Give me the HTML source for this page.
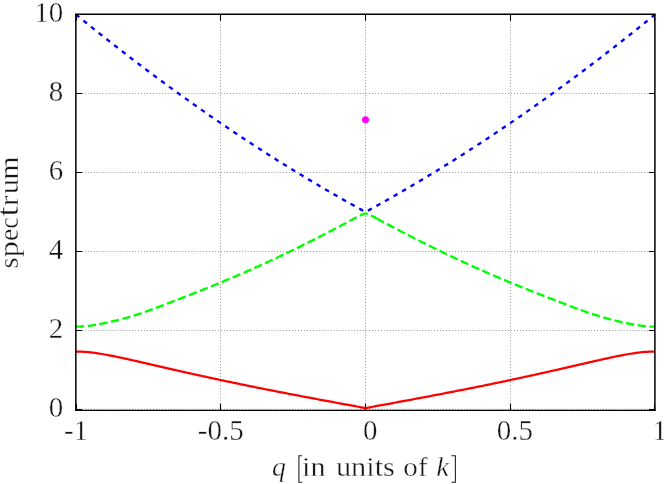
<!DOCTYPE html>
<html><head><meta charset="utf-8"><style>
html,body{margin:0;padding:0;background:#fff}
svg{display:block}
text{font-family:"Liberation Serif",serif;font-size:28px;fill:#141414;stroke:#fff;stroke-width:0.36px}
</style></head><body>
<svg width="664" height="484" viewBox="0 0 664 484">
<rect width="664" height="484" fill="#fff"/>
<g stroke="#000" stroke-opacity="0.42" stroke-width="1" stroke-dasharray="1 1.96" fill="none">
<path d="M76,409.2 H655"/>
<path d="M76,330.5 H655"/>
<path d="M76,251.5 H655"/>
<path d="M76,172.5 H655"/>
<path d="M76,93.5 H655"/>
<path d="M220.50,409.5 V14.5"/>
<path d="M365.50,409.5 V14.5"/>
<path d="M510.50,409.5 V14.5"/>
</g>
<g stroke="#000" stroke-width="1.1" fill="none">
<path d="M76,409.5 h6 M655,409.5 h-6"/>
<path d="M76,330.5 h6 M655,330.5 h-6"/>
<path d="M76,251.5 h6 M655,251.5 h-6"/>
<path d="M76,172.5 h6 M655,172.5 h-6"/>
<path d="M76,93.5 h6 M655,93.5 h-6"/>
<path d="M76,14.5 h6 M655,14.5 h-6"/>
<path d="M76.50,410 V403.8 M76.50,14.5 V20.7"/>
<path d="M220.50,410 V403.8 M220.50,14.5 V20.7"/>
<path d="M365.50,410 V403.8 M365.50,14.5 V20.7"/>
<path d="M510.50,410 V403.8 M510.50,14.5 V20.7"/>
<path d="M654.50,410 V403.8 M654.50,14.5 V20.7"/>
</g>
<path d="M76.00,351.59 L77.45,351.59 L78.89,351.61 L80.34,351.64 L81.79,351.70 L83.24,351.77 L84.69,351.85 L86.13,351.96 L87.58,352.08 L89.03,352.21 L90.48,352.36 L91.92,352.53 L93.37,352.70 L94.82,352.89 L96.27,353.09 L97.71,353.30 L99.16,353.53 L100.61,353.76 L102.05,354.00 L103.50,354.24 L104.95,354.50 L106.40,354.76 L107.84,355.03 L109.29,355.31 L110.74,355.59 L112.19,355.88 L113.63,356.17 L115.08,356.46 L116.53,356.76 L117.98,357.06 L119.43,357.37 L120.87,357.68 L122.32,357.99 L123.77,358.31 L125.22,358.62 L126.66,358.94 L128.11,359.26 L129.56,359.59 L131.00,359.91 L132.45,360.24 L133.90,360.56 L135.35,360.89 L136.79,361.22 L138.24,361.55 L139.69,361.88 L141.14,362.22 L142.58,362.55 L144.03,362.88 L145.48,363.21 L146.93,363.55 L148.38,363.88 L149.82,364.21 L151.27,364.55 L152.72,364.88 L154.17,365.22 L155.61,365.55 L157.06,365.88 L158.51,366.22 L159.96,366.55 L161.40,366.88 L162.85,367.22 L164.30,367.55 L165.75,367.88 L167.19,368.21 L168.64,368.54 L170.09,368.87 L171.54,369.20 L172.98,369.53 L174.43,369.86 L175.88,370.19 L177.33,370.52 L178.77,370.85 L180.22,371.18 L181.67,371.50 L183.12,371.83 L184.56,372.15 L186.01,372.48 L187.46,372.80 L188.91,373.13 L190.35,373.45 L191.80,373.77 L193.25,374.09 L194.69,374.41 L196.14,374.73 L197.59,375.05 L199.04,375.37 L200.48,375.69 L201.93,376.01 L203.38,376.32 L204.83,376.64 L206.27,376.95 L207.72,377.27 L209.17,377.58 L210.62,377.90 L212.06,378.21 L213.51,378.52 L214.96,378.83 L216.41,379.14 L217.85,379.45 L219.30,379.76 L220.75,380.07 L222.20,380.37 L223.65,380.68 L225.09,380.98 L226.54,381.29 L227.99,381.59 L229.44,381.90 L230.88,382.20 L232.33,382.50 L233.78,382.80 L235.23,383.10 L236.67,383.40 L238.12,383.70 L239.57,384.00 L241.02,384.30 L242.46,384.60 L243.91,384.89 L245.36,385.19 L246.80,385.48 L248.25,385.78 L249.70,386.07 L251.15,386.37 L252.59,386.66 L254.04,386.95 L255.49,387.24 L256.94,387.53 L258.38,387.82 L259.83,388.11 L261.28,388.40 L262.73,388.69 L264.18,388.98 L265.62,389.26 L267.07,389.55 L268.52,389.84 L269.97,390.12 L271.41,390.41 L272.86,390.69 L274.31,390.97 L275.75,391.26 L277.20,391.54 L278.65,391.82 L280.10,392.10 L281.54,392.38 L282.99,392.66 L284.44,392.94 L285.89,393.22 L287.34,393.50 L288.78,393.78 L290.23,394.06 L291.68,394.34 L293.12,394.61 L294.57,394.89 L296.02,395.17 L297.47,395.44 L298.91,395.72 L300.36,395.99 L301.81,396.27 L303.26,396.54 L304.71,396.82 L306.15,397.09 L307.60,397.36 L309.05,397.63 L310.50,397.91 L311.94,398.18 L313.39,398.45 L314.84,398.72 L316.29,398.99 L317.73,399.26 L319.18,399.53 L320.63,399.80 L322.07,400.07 L323.52,400.34 L324.97,400.61 L326.42,400.88 L327.87,401.15 L329.31,401.42 L330.76,401.69 L332.21,401.96 L333.66,402.23 L335.10,402.49 L336.55,402.76 L338.00,403.03 L339.44,403.30 L340.89,403.56 L342.34,403.83 L343.79,404.10 L345.24,404.36 L346.68,404.63 L348.13,404.90 L349.58,405.16 L351.03,405.43 L352.47,405.70 L353.92,405.96 L355.37,406.23 L356.81,406.50 L358.26,406.76 L359.71,407.03 L361.16,407.30 L362.61,407.56 L364.05,407.83 L365.50,408.09 L366.95,407.83 L368.39,407.56 L369.84,407.30 L371.29,407.03 L372.74,406.76 L374.19,406.50 L375.63,406.23 L377.08,405.96 L378.53,405.70 L379.98,405.43 L381.42,405.16 L382.87,404.90 L384.32,404.63 L385.77,404.36 L387.21,404.10 L388.66,403.83 L390.11,403.56 L391.56,403.30 L393.00,403.03 L394.45,402.76 L395.90,402.49 L397.35,402.23 L398.79,401.96 L400.24,401.69 L401.69,401.42 L403.14,401.15 L404.58,400.88 L406.03,400.61 L407.48,400.34 L408.93,400.07 L410.37,399.80 L411.82,399.53 L413.27,399.26 L414.71,398.99 L416.16,398.72 L417.61,398.45 L419.06,398.18 L420.50,397.91 L421.95,397.63 L423.40,397.36 L424.85,397.09 L426.30,396.82 L427.74,396.54 L429.19,396.27 L430.64,395.99 L432.08,395.72 L433.53,395.44 L434.98,395.17 L436.43,394.89 L437.88,394.61 L439.32,394.34 L440.77,394.06 L442.22,393.78 L443.67,393.50 L445.11,393.22 L446.56,392.94 L448.01,392.66 L449.45,392.38 L450.90,392.10 L452.35,391.82 L453.80,391.54 L455.25,391.26 L456.69,390.97 L458.14,390.69 L459.59,390.41 L461.04,390.12 L462.48,389.84 L463.93,389.55 L465.38,389.26 L466.83,388.98 L468.27,388.69 L469.72,388.40 L471.17,388.11 L472.62,387.82 L474.06,387.53 L475.51,387.24 L476.96,386.95 L478.41,386.66 L479.85,386.37 L481.30,386.07 L482.75,385.78 L484.19,385.48 L485.64,385.19 L487.09,384.89 L488.54,384.60 L489.98,384.30 L491.43,384.00 L492.88,383.70 L494.33,383.40 L495.77,383.10 L497.22,382.80 L498.67,382.50 L500.12,382.20 L501.56,381.90 L503.01,381.59 L504.46,381.29 L505.91,380.98 L507.36,380.68 L508.80,380.37 L510.25,380.07 L511.70,379.76 L513.14,379.45 L514.59,379.14 L516.04,378.83 L517.49,378.52 L518.93,378.21 L520.38,377.90 L521.83,377.58 L523.28,377.27 L524.73,376.95 L526.17,376.64 L527.62,376.32 L529.07,376.01 L530.52,375.69 L531.96,375.37 L533.41,375.05 L534.86,374.73 L536.31,374.41 L537.75,374.09 L539.20,373.77 L540.65,373.45 L542.10,373.13 L543.54,372.80 L544.99,372.48 L546.44,372.15 L547.88,371.83 L549.33,371.50 L550.78,371.18 L552.23,370.85 L553.67,370.52 L555.12,370.19 L556.57,369.86 L558.02,369.53 L559.46,369.20 L560.91,368.87 L562.36,368.54 L563.81,368.21 L565.25,367.88 L566.70,367.55 L568.15,367.22 L569.60,366.88 L571.05,366.55 L572.49,366.22 L573.94,365.88 L575.39,365.55 L576.84,365.22 L578.28,364.88 L579.73,364.55 L581.18,364.21 L582.62,363.88 L584.07,363.55 L585.52,363.21 L586.97,362.88 L588.41,362.55 L589.86,362.22 L591.31,361.88 L592.76,361.55 L594.21,361.22 L595.65,360.89 L597.10,360.56 L598.55,360.24 L600.00,359.91 L601.44,359.59 L602.89,359.26 L604.34,358.94 L605.78,358.62 L607.23,358.31 L608.68,357.99 L610.13,357.68 L611.58,357.37 L613.02,357.06 L614.47,356.76 L615.92,356.46 L617.37,356.17 L618.81,355.88 L620.26,355.59 L621.71,355.31 L623.16,355.03 L624.60,354.76 L626.05,354.50 L627.50,354.24 L628.95,354.00 L630.39,353.76 L631.84,353.53 L633.29,353.30 L634.74,353.09 L636.18,352.89 L637.63,352.70 L639.08,352.53 L640.52,352.36 L641.97,352.21 L643.42,352.08 L644.87,351.96 L646.31,351.85 L647.76,351.77 L649.21,351.70 L650.66,351.64 L652.11,351.61 L653.55,351.59 L655.00,351.59" stroke="#ff0000" stroke-width="2.25" fill="none" stroke-linejoin="round"/>
<path d="M76.00,326.65 L77.00,326.65 L78.00,326.64 L79.01,326.62 L80.01,326.58 L81.01,326.54 L82.01,326.48 L83.01,326.42 L84.02,326.34 L85.02,326.25 L86.02,326.15 L87.02,326.05 L88.02,325.93 L89.03,325.81 L90.03,325.68 L91.03,325.54 L92.03,325.39 L93.03,325.24 L94.04,325.08 L95.04,324.92 L96.04,324.75 L97.04,324.57 L98.04,324.39 L99.05,324.21 L100.05,324.02 L101.05,323.83 L102.05,323.63 L103.05,323.43 L104.06,323.22 L105.06,323.02 L106.06,322.81 L107.06,322.59 L108.06,322.37 L109.07,322.15 L110.07,321.93 L111.07,321.70 L112.07,321.47 L113.07,321.24 L114.08,321.00 L115.08,320.76 L116.08,320.52 L117.08,320.27 L118.08,320.02 L119.09,319.76 L120.09,319.51 L121.09,319.25 L122.09,318.98 L123.09,318.72 L124.10,318.44 L125.10,318.17 L126.10,317.89 L127.10,317.61 L128.10,317.32 L129.11,317.03 L130.11,316.74 L131.11,316.44 L132.11,316.13 L133.11,315.83 L134.12,315.52 L135.12,315.20 L136.12,314.89 L137.12,314.56 L138.12,314.24 L139.13,313.91 L140.13,313.58 L141.13,313.24 L142.13,312.90 L143.13,312.56 L144.14,312.21 L145.14,311.86 L146.14,311.51 L147.14,311.15 L148.14,310.80 L149.15,310.43 L150.15,310.07 L151.15,309.71 L152.15,309.34 L153.15,308.97 L154.16,308.60 L155.16,308.22 L156.16,307.85 L157.16,307.47 L158.16,307.09 L159.17,306.71 L160.17,306.33 L161.17,305.95 L162.17,305.57 L163.17,305.18 L164.18,304.80 L165.18,304.42 L166.18,304.03 L167.18,303.65 L168.18,303.26 L169.19,302.87 L170.19,302.49 L171.19,302.10 L172.19,301.71 L173.19,301.32 L174.20,300.94 L175.20,300.55 L176.20,300.16 L177.20,299.77 L178.20,299.39 L179.21,299.00 L180.21,298.61 L181.21,298.22 L182.21,297.83 L183.21,297.44 L184.22,297.06 L185.22,296.67 L186.22,296.28 L187.22,295.89 L188.22,295.50 L189.23,295.11 L190.23,294.72 L191.23,294.33 L192.23,293.94 L193.23,293.54 L194.24,293.15 L195.24,292.76 L196.24,292.37 L197.24,291.97 L198.24,291.58 L199.25,291.18 L200.25,290.79 L201.25,290.39 L202.25,289.99 L203.25,289.60 L204.26,289.20 L205.26,288.80 L206.26,288.40 L207.26,288.00 L208.26,287.60 L209.27,287.19 L210.27,286.79 L211.27,286.39 L212.27,285.98 L213.27,285.57 L214.28,285.17 L215.28,284.76 L216.28,284.35 L217.28,283.94 L218.28,283.53 L219.29,283.12 L220.29,282.70 L221.29,282.29 L222.29,281.88 L223.29,281.46 L224.30,281.04 L225.30,280.62 L226.30,280.21 L227.30,279.79 L228.30,279.36 L229.31,278.94 L230.31,278.52 L231.31,278.10 L232.31,277.67 L233.31,277.24 L234.32,276.82 L235.32,276.39 L236.32,275.96 L237.32,275.53 L238.32,275.10 L239.33,274.67 L240.33,274.23 L241.33,273.80 L242.33,273.37 L243.33,272.93 L244.34,272.49 L245.34,272.05 L246.34,271.61 L247.34,271.17 L248.34,270.73 L249.35,270.29 L250.35,269.85 L251.35,269.40 L252.35,268.96 L253.35,268.51 L254.36,268.06 L255.36,267.62 L256.36,267.17 L257.36,266.72 L258.36,266.26 L259.37,265.81 L260.37,265.36 L261.37,264.90 L262.37,264.45 L263.37,263.99 L264.38,263.53 L265.38,263.08 L266.38,262.62 L267.38,262.16 L268.38,261.69 L269.39,261.23 L270.39,260.77 L271.39,260.30 L272.39,259.84 L273.39,259.37 L274.40,258.90 L275.40,258.43 L276.40,257.97 L277.40,257.49 L278.40,257.02 L279.41,256.55 L280.41,256.08 L281.41,255.60 L282.41,255.13 L283.41,254.65 L284.42,254.17 L285.42,253.69 L286.42,253.21 L287.42,252.73 L288.42,252.25 L289.43,251.77 L290.43,251.29 L291.43,250.80 L292.43,250.31 L293.43,249.83 L294.44,249.34 L295.44,248.85 L296.44,248.36 L297.44,247.87 L298.44,247.38 L299.45,246.89 L300.45,246.39 L301.45,245.90 L302.45,245.40 L303.45,244.91 L304.46,244.41 L305.46,243.91 L306.46,243.41 L307.46,242.91 L308.46,242.41 L309.47,241.91 L310.47,241.40 L311.47,240.90 L312.47,240.39 L313.47,239.89 L314.48,239.38 L315.48,238.87 L316.48,238.36 L317.48,237.85 L318.48,237.34 L319.49,236.83 L320.49,236.31 L321.49,235.80 L322.49,235.28 L323.49,234.77 L324.50,234.25 L325.50,233.73 L326.50,233.21 L327.50,232.69 L328.50,232.17 L329.51,231.65 L330.51,231.13 L331.51,230.61 L332.51,230.08 L333.51,229.56 L334.52,229.03 L335.52,228.50 L336.52,227.97 L337.52,227.44 L338.52,226.92 L339.53,226.38 L340.53,225.85 L341.53,225.32 L342.53,224.79 L343.53,224.25 L344.54,223.72 L345.54,223.19 L346.54,222.65 L347.54,222.11 L348.54,221.58 L349.55,221.04 L350.55,220.51 L351.55,219.97 L352.55,219.43 L353.55,218.90 L354.56,218.36 L355.56,217.83 L356.56,217.30 L357.56,216.78 L358.56,216.25 L359.57,215.74 L360.57,215.24 L361.57,214.77 L362.57,214.33 L363.57,213.95 L364.58,213.68 L365.58,213.60 L366.58,213.71 L367.58,214.00 L368.58,214.39 L369.59,214.84 L370.59,215.32 L371.59,215.82 L372.59,216.34 L373.59,216.86 L374.60,217.38 L375.60,217.91 L376.60,218.45" stroke="#00ff00" stroke-width="2.35" fill="none" stroke-dasharray="8.25 3.54"/>
<path d="M376.60,218.45 L377.53,218.94 L378.46,219.44 L379.38,219.93 L380.31,220.43 L381.24,220.93 L382.17,221.42 L383.10,221.92 L384.02,222.42 L384.95,222.91 L385.88,223.41 L386.81,223.90 L387.74,224.40 L388.66,224.89 L389.59,225.39 L390.52,225.88 L391.45,226.37 L392.38,226.86 L393.30,227.35 L394.23,227.84 L395.16,228.33 L396.09,228.82 L397.02,229.31 L397.94,229.80 L398.87,230.28 L399.80,230.77 L400.73,231.25 L401.66,231.74 L402.58,232.22 L403.51,232.70 L404.44,233.18 L405.37,233.66 L406.30,234.14 L407.22,234.62 L408.15,235.10 L409.08,235.58 L410.01,236.06 L410.94,236.53 L411.86,237.01 L412.79,237.48 L413.72,237.95 L414.65,238.43 L415.58,238.90 L416.50,239.37 L417.43,239.84 L418.36,240.31 L419.29,240.78 L420.22,241.24 L421.14,241.71 L422.07,242.18 L423.00,242.64 L423.93,243.11 L424.86,243.57 L425.78,244.03 L426.71,244.49 L427.64,244.95 L428.57,245.41 L429.50,245.87 L430.42,246.33 L431.35,246.79 L432.28,247.24 L433.21,247.70 L434.14,248.15 L435.06,248.61 L435.99,249.06 L436.92,249.51 L437.85,249.97 L438.78,250.42 L439.70,250.87 L440.63,251.31 L441.56,251.76 L442.49,252.21 L443.42,252.66 L444.34,253.10 L445.27,253.55 L446.20,253.99 L447.13,254.43 L448.06,254.87 L448.98,255.31 L449.91,255.75 L450.84,256.19 L451.77,256.63 L452.70,257.07 L453.62,257.51 L454.55,257.94 L455.48,258.38 L456.41,258.81 L457.34,259.25 L458.26,259.68 L459.19,260.11 L460.12,260.54 L461.05,260.97 L461.98,261.40 L462.90,261.83 L463.83,262.25 L464.76,262.68 L465.69,263.11 L466.62,263.53 L467.54,263.95 L468.47,264.38 L469.40,264.80 L470.33,265.22 L471.26,265.64 L472.18,266.06 L473.11,266.48 L474.04,266.90 L474.97,267.31 L475.90,267.73 L476.82,268.14 L477.75,268.56 L478.68,268.97 L479.61,269.38 L480.54,269.80 L481.46,270.21 L482.39,270.62 L483.32,271.03 L484.25,271.43 L485.18,271.84 L486.10,272.25 L487.03,272.65 L487.96,273.06 L488.89,273.46 L489.82,273.86 L490.74,274.27 L491.67,274.67 L492.60,275.07 L493.53,275.47 L494.46,275.86 L495.38,276.26 L496.31,276.66 L497.24,277.06 L498.17,277.45 L499.10,277.84 L500.02,278.24 L500.95,278.63 L501.88,279.02 L502.81,279.41 L503.74,279.80 L504.66,280.19 L505.59,280.58 L506.52,280.97 L507.45,281.35 L508.38,281.74 L509.30,282.12 L510.23,282.51 L511.16,282.89 L512.09,283.27 L513.02,283.65 L513.94,284.03 L514.87,284.41 L515.80,284.79 L516.73,285.17 L517.66,285.55 L518.58,285.92 L519.51,286.30 L520.44,286.67 L521.37,287.05 L522.30,287.42 L523.22,287.79 L524.15,288.16 L525.08,288.53 L526.01,288.90 L526.94,289.27 L527.86,289.64 L528.79,290.01 L529.72,290.38 L530.65,290.75 L531.58,291.11 L532.50,291.48 L533.43,291.84 L534.36,292.21 L535.29,292.57 L536.22,292.94 L537.14,293.30 L538.07,293.66 L539.00,294.03 L539.93,294.39 L540.86,294.75 L541.78,295.11 L542.71,295.47 L543.64,295.83 L544.57,296.19 L545.50,296.55 L546.42,296.92 L547.35,297.28 L548.28,297.64 L549.21,298.00 L550.14,298.35 L551.06,298.71 L551.99,299.07 L552.92,299.43 L553.85,299.79 L554.78,300.15 L555.70,300.51 L556.63,300.87 L557.56,301.23 L558.49,301.59 L559.42,301.95 L560.34,302.30 L561.27,302.66 L562.20,303.02 L563.13,303.38 L564.06,303.74 L564.98,304.09 L565.91,304.45 L566.84,304.81 L567.77,305.16 L568.70,305.52 L569.62,305.87 L570.55,306.23 L571.48,306.58 L572.41,306.93 L573.34,307.28 L574.26,307.63 L575.19,307.98 L576.12,308.33 L577.05,308.67 L577.98,309.02 L578.90,309.36 L579.83,309.70 L580.76,310.04 L581.69,310.37 L582.62,310.71 L583.54,311.04 L584.47,311.37 L585.40,311.70 L586.33,312.02 L587.26,312.35 L588.18,312.67 L589.11,312.98 L590.04,313.30 L590.97,313.61 L591.90,313.92 L592.82,314.22 L593.75,314.52 L594.68,314.82 L595.61,315.12 L596.54,315.41 L597.46,315.70 L598.39,315.98 L599.32,316.27 L600.25,316.54 L601.18,316.82 L602.10,317.09 L603.03,317.36 L603.96,317.62 L604.89,317.89 L605.82,318.14 L606.74,318.40 L607.67,318.65 L608.60,318.90 L609.53,319.15 L610.46,319.39 L611.38,319.63 L612.31,319.87 L613.24,320.10 L614.17,320.33 L615.10,320.56 L616.02,320.78 L616.95,321.01 L617.88,321.22 L618.81,321.44 L619.74,321.66 L620.66,321.87 L621.59,322.08 L622.52,322.28 L623.45,322.48 L624.38,322.68 L625.30,322.88 L626.23,323.08 L627.16,323.27 L628.09,323.46 L629.02,323.64 L629.94,323.82 L630.87,324.00 L631.80,324.18 L632.73,324.35 L633.66,324.52 L634.58,324.68 L635.51,324.84 L636.44,325.00 L637.37,325.15 L638.30,325.29 L639.22,325.43 L640.15,325.56 L641.08,325.69 L642.01,325.81 L642.94,325.93 L643.86,326.03 L644.79,326.13 L645.72,326.23 L646.65,326.31 L647.58,326.39 L648.50,326.45 L649.43,326.51 L650.36,326.56 L651.29,326.60 L652.22,326.62 L653.14,326.64 L654.07,326.65 L655.00,326.65" stroke="#00ff00" stroke-width="2.35" fill="none" stroke-dasharray="8.25 3.54"/>
<path d="M76.00,14.50 L77.45,15.68 L78.89,16.87 L80.34,18.05 L81.79,19.22 L83.24,20.40 L84.69,21.57 L86.13,22.75 L87.58,23.92 L89.03,25.09 L90.48,26.25 L91.92,27.42 L93.37,28.58 L94.82,29.74 L96.27,30.90 L97.71,32.05 L99.16,33.21 L100.61,34.36 L102.05,35.51 L103.50,36.66 L104.95,37.80 L106.40,38.95 L107.84,40.09 L109.29,41.23 L110.74,42.37 L112.19,43.51 L113.63,44.64 L115.08,45.78 L116.53,46.91 L117.98,48.03 L119.43,49.16 L120.87,50.29 L122.32,51.41 L123.77,52.53 L125.22,53.65 L126.66,54.77 L128.11,55.88 L129.56,56.99 L131.00,58.10 L132.45,59.21 L133.90,60.32 L135.35,61.43 L136.79,62.53 L138.24,63.63 L139.69,64.73 L141.14,65.83 L142.58,66.92 L144.03,68.01 L145.48,69.10 L146.93,70.19 L148.38,71.28 L149.82,72.37 L151.27,73.45 L152.72,74.53 L154.17,75.61 L155.61,76.69 L157.06,77.76 L158.51,78.84 L159.96,79.91 L161.40,80.98 L162.85,82.04 L164.30,83.11 L165.75,84.17 L167.19,85.24 L168.64,86.30 L170.09,87.35 L171.54,88.41 L172.98,89.46 L174.43,90.51 L175.88,91.56 L177.33,92.61 L178.77,93.66 L180.22,94.70 L181.67,95.74 L183.12,96.78 L184.56,97.82 L186.01,98.86 L187.46,99.89 L188.91,100.92 L190.35,101.95 L191.80,102.98 L193.25,104.01 L194.69,105.03 L196.14,106.05 L197.59,107.07 L199.04,108.09 L200.48,109.11 L201.93,110.12 L203.38,111.13 L204.83,112.14 L206.27,113.15 L207.72,114.16 L209.17,115.16 L210.62,116.16 L212.06,117.16 L213.51,118.16 L214.96,119.16 L216.41,120.15 L217.85,121.15 L219.30,122.14 L220.75,123.12 L222.20,124.11 L223.65,125.10 L225.09,126.08 L226.54,127.06 L227.99,128.04 L229.44,129.01 L230.88,129.99 L232.33,130.96 L233.78,131.93 L235.23,132.90 L236.67,133.87 L238.12,134.83 L239.57,135.80 L241.02,136.76 L242.46,137.72 L243.91,138.67 L245.36,139.63 L246.80,140.58 L248.25,141.53 L249.70,142.48 L251.15,143.43 L252.59,144.37 L254.04,145.32 L255.49,146.26 L256.94,147.20 L258.38,148.13 L259.83,149.07 L261.28,150.00 L262.73,150.93 L264.18,151.86 L265.62,152.79 L267.07,153.71 L268.52,154.64 L269.97,155.56 L271.41,156.48 L272.86,157.40 L274.31,158.31 L275.75,159.22 L277.20,160.14 L278.65,161.05 L280.10,161.95 L281.54,162.86 L282.99,163.76 L284.44,164.66 L285.89,165.56 L287.34,166.46 L288.78,167.36 L290.23,168.25 L291.68,169.14 L293.12,170.03 L294.57,170.92 L296.02,171.80 L297.47,172.69 L298.91,173.57 L300.36,174.45 L301.81,175.33 L303.26,176.20 L304.71,177.08 L306.15,177.95 L307.60,178.82 L309.05,179.69 L310.50,180.55 L311.94,181.42 L313.39,182.28 L314.84,183.14 L316.29,184.00 L317.73,184.85 L319.18,185.71 L320.63,186.56 L322.07,187.41 L323.52,188.26 L324.97,189.11 L326.42,189.95 L327.87,190.79 L329.31,191.63 L330.76,192.47 L332.21,193.31 L333.66,194.14 L335.10,194.97 L336.55,195.80 L338.00,196.63 L339.44,197.46 L340.89,198.28 L342.34,199.11 L343.79,199.93 L345.24,200.75 L346.68,201.56 L348.13,202.38 L349.58,203.19 L351.03,204.00 L352.47,204.81 L353.92,205.62 L355.37,206.42 L356.81,207.22 L358.26,208.03 L359.71,208.82 L361.16,209.62 L362.61,210.42 L364.05,211.21 L365.50,212.00 L366.95,211.21 L368.39,210.42 L369.84,209.62 L371.29,208.82 L372.74,208.03 L374.19,207.22 L375.63,206.42 L377.08,205.62 L378.53,204.81 L379.98,204.00 L381.42,203.19 L382.87,202.38 L384.32,201.56 L385.77,200.75 L387.21,199.93 L388.66,199.11 L390.11,198.28 L391.56,197.46 L393.00,196.63 L394.45,195.80 L395.90,194.97 L397.35,194.14 L398.79,193.31 L400.24,192.47 L401.69,191.63 L403.14,190.79 L404.58,189.95 L406.03,189.11 L407.48,188.26 L408.93,187.41 L410.37,186.56 L411.82,185.71 L413.27,184.85 L414.71,184.00 L416.16,183.14 L417.61,182.28 L419.06,181.42 L420.50,180.55 L421.95,179.69 L423.40,178.82 L424.85,177.95 L426.30,177.08 L427.74,176.20 L429.19,175.33 L430.64,174.45 L432.08,173.57 L433.53,172.69 L434.98,171.80 L436.43,170.92 L437.88,170.03 L439.32,169.14 L440.77,168.25 L442.22,167.36 L443.67,166.46 L445.11,165.56 L446.56,164.66 L448.01,163.76 L449.45,162.86 L450.90,161.95 L452.35,161.05 L453.80,160.14 L455.25,159.22 L456.69,158.31 L458.14,157.40 L459.59,156.48 L461.04,155.56 L462.48,154.64 L463.93,153.71 L465.38,152.79 L466.83,151.86 L468.27,150.93 L469.72,150.00 L471.17,149.07 L472.62,148.13 L474.06,147.20 L475.51,146.26 L476.96,145.32 L478.41,144.37 L479.85,143.43 L481.30,142.48 L482.75,141.53 L484.19,140.58 L485.64,139.63 L487.09,138.67 L488.54,137.72 L489.98,136.76 L491.43,135.80 L492.88,134.83 L494.33,133.87 L495.77,132.90 L497.22,131.93 L498.67,130.96 L500.12,129.99 L501.56,129.01 L503.01,128.04 L504.46,127.06 L505.91,126.08 L507.36,125.10 L508.80,124.11 L510.25,123.12 L511.70,122.14 L513.14,121.15 L514.59,120.15 L516.04,119.16 L517.49,118.16 L518.93,117.16 L520.38,116.16 L521.83,115.16 L523.28,114.16 L524.73,113.15 L526.17,112.14 L527.62,111.13 L529.07,110.12 L530.52,109.11 L531.96,108.09 L533.41,107.07 L534.86,106.05 L536.31,105.03 L537.75,104.01 L539.20,102.98 L540.65,101.95 L542.10,100.92 L543.54,99.89 L544.99,98.86 L546.44,97.82 L547.88,96.78 L549.33,95.74 L550.78,94.70 L552.23,93.66 L553.67,92.61 L555.12,91.56 L556.57,90.51 L558.02,89.46 L559.46,88.41 L560.91,87.35 L562.36,86.30 L563.81,85.24 L565.25,84.17 L566.70,83.11 L568.15,82.04 L569.60,80.98 L571.05,79.91 L572.49,78.84 L573.94,77.76 L575.39,76.69 L576.84,75.61 L578.28,74.53 L579.73,73.45 L581.18,72.37 L582.62,71.28 L584.07,70.19 L585.52,69.10 L586.97,68.01 L588.41,66.92 L589.86,65.83 L591.31,64.73 L592.76,63.63 L594.21,62.53 L595.65,61.43 L597.10,60.32 L598.55,59.21 L600.00,58.10 L601.44,56.99 L602.89,55.88 L604.34,54.77 L605.78,53.65 L607.23,52.53 L608.68,51.41 L610.13,50.29 L611.58,49.16 L613.02,48.03 L614.47,46.91 L615.92,45.78 L617.37,44.64 L618.81,43.51 L620.26,42.37 L621.71,41.23 L623.16,40.09 L624.60,38.95 L626.05,37.80 L627.50,36.66 L628.95,35.51 L630.39,34.36 L631.84,33.21 L633.29,32.05 L634.74,30.90 L636.18,29.74 L637.63,28.58 L639.08,27.42 L640.52,26.25 L641.97,25.09 L643.42,23.92 L644.87,22.75 L646.31,21.57 L647.76,20.40 L649.21,19.22 L650.66,18.05 L652.11,16.87 L653.55,15.68 L655.00,14.50" stroke="#0000ff" stroke-width="2.35" fill="none" stroke-dasharray="4.5 5.33" stroke-dashoffset="0.25"/>
<circle cx="365.5" cy="119.8" r="3.5" fill="#ff00ff"/>
<path d="M75.85,410.9 V14.3 H654.9 V410.9" fill="none" stroke="#000" stroke-width="1.5"/><path d="M75.3,410.3 H655.6" fill="none" stroke="#000" stroke-width="1.25"/>
<g opacity="0.995">
<text transform="translate(63.3,417.2) scale(1.035,1.08)" text-anchor="end">0</text>
<text transform="translate(63.3,338.2) scale(1.035,1.08)" text-anchor="end">2</text>
<text transform="translate(63.3,259.2) scale(1.035,1.08)" text-anchor="end">4</text>
<text transform="translate(63.3,180.2) scale(1.035,1.08)" text-anchor="end">6</text>
<text transform="translate(63.3,101.2) scale(1.035,1.08)" text-anchor="end">8</text>
<text transform="translate(63.3,22.2) scale(1.035,1.08)" text-anchor="end">10</text>
<text transform="translate(76.00,439.6) scale(1.035,1.08)" text-anchor="middle">-1</text>
<text transform="translate(220.75,439.6) scale(1.035,1.08)" text-anchor="middle">-0.5</text>
<text transform="translate(370.16,439.6) scale(1.035,1.08)" text-anchor="middle">0</text>
<text transform="translate(514.91,439.6) scale(1.035,1.08)" text-anchor="middle">0.5</text>
<text transform="translate(659.66,439.6) scale(1.035,1.08)" text-anchor="middle">1</text>
<text transform="translate(17.90,267.50) rotate(-90) scale(1.0000,1.00)" x="-1.10" y="0">s</text>
<text transform="translate(17.90,256.80) rotate(-90) scale(1.1532,1.00)" x="-0.50" y="0">p</text>
<text transform="translate(17.90,239.90) rotate(-90) scale(1.0000,1.00)" x="-1.10" y="0">e</text>
<text transform="translate(17.90,227.70) rotate(-90) scale(0.9333,1.00)" x="-1.10" y="0">c</text>
<text transform="translate(17.90,216.20) rotate(-90) scale(1.3014,1.10)" x="-0.30" y="0">t</text>
<text transform="translate(17.90,205.50) rotate(-90) scale(1.1647,1.00)" x="-0.60" y="0">r</text>
<text transform="translate(17.90,193.90) rotate(-90) scale(1.0992,1.00)" x="-0.40" y="0">u</text>
<text transform="translate(17.90,178.90) rotate(-90) scale(1.0483,1.00)" x="-0.60" y="0">m</text>
<text transform="translate(273.00,475.8) scale(0.9919,1)" x="-0.90" y="0" font-style="italic">q</text>
<text transform="translate(302.70,475.8) scale(1.0721,1)" x="-0.60" y="0">in</text>
<text transform="translate(336.30,475.8) scale(1.0847,1)" x="-0.40" y="0">units</text>
<text transform="translate(404.50,475.8) scale(1.0405,1)" x="-1.10" y="0">of</text>
<text transform="translate(437.20,475.8) scale(1.0333,1)" x="-0.80" y="0" font-style="italic">k</text>
<path d="M302.1,455.7 H298.9 V482.3 H302.1 M451.4,455.7 H455.4 V482.3 H451.4" fill="none" stroke="#222" stroke-width="1.1"/>
</g>
</svg></body></html>
